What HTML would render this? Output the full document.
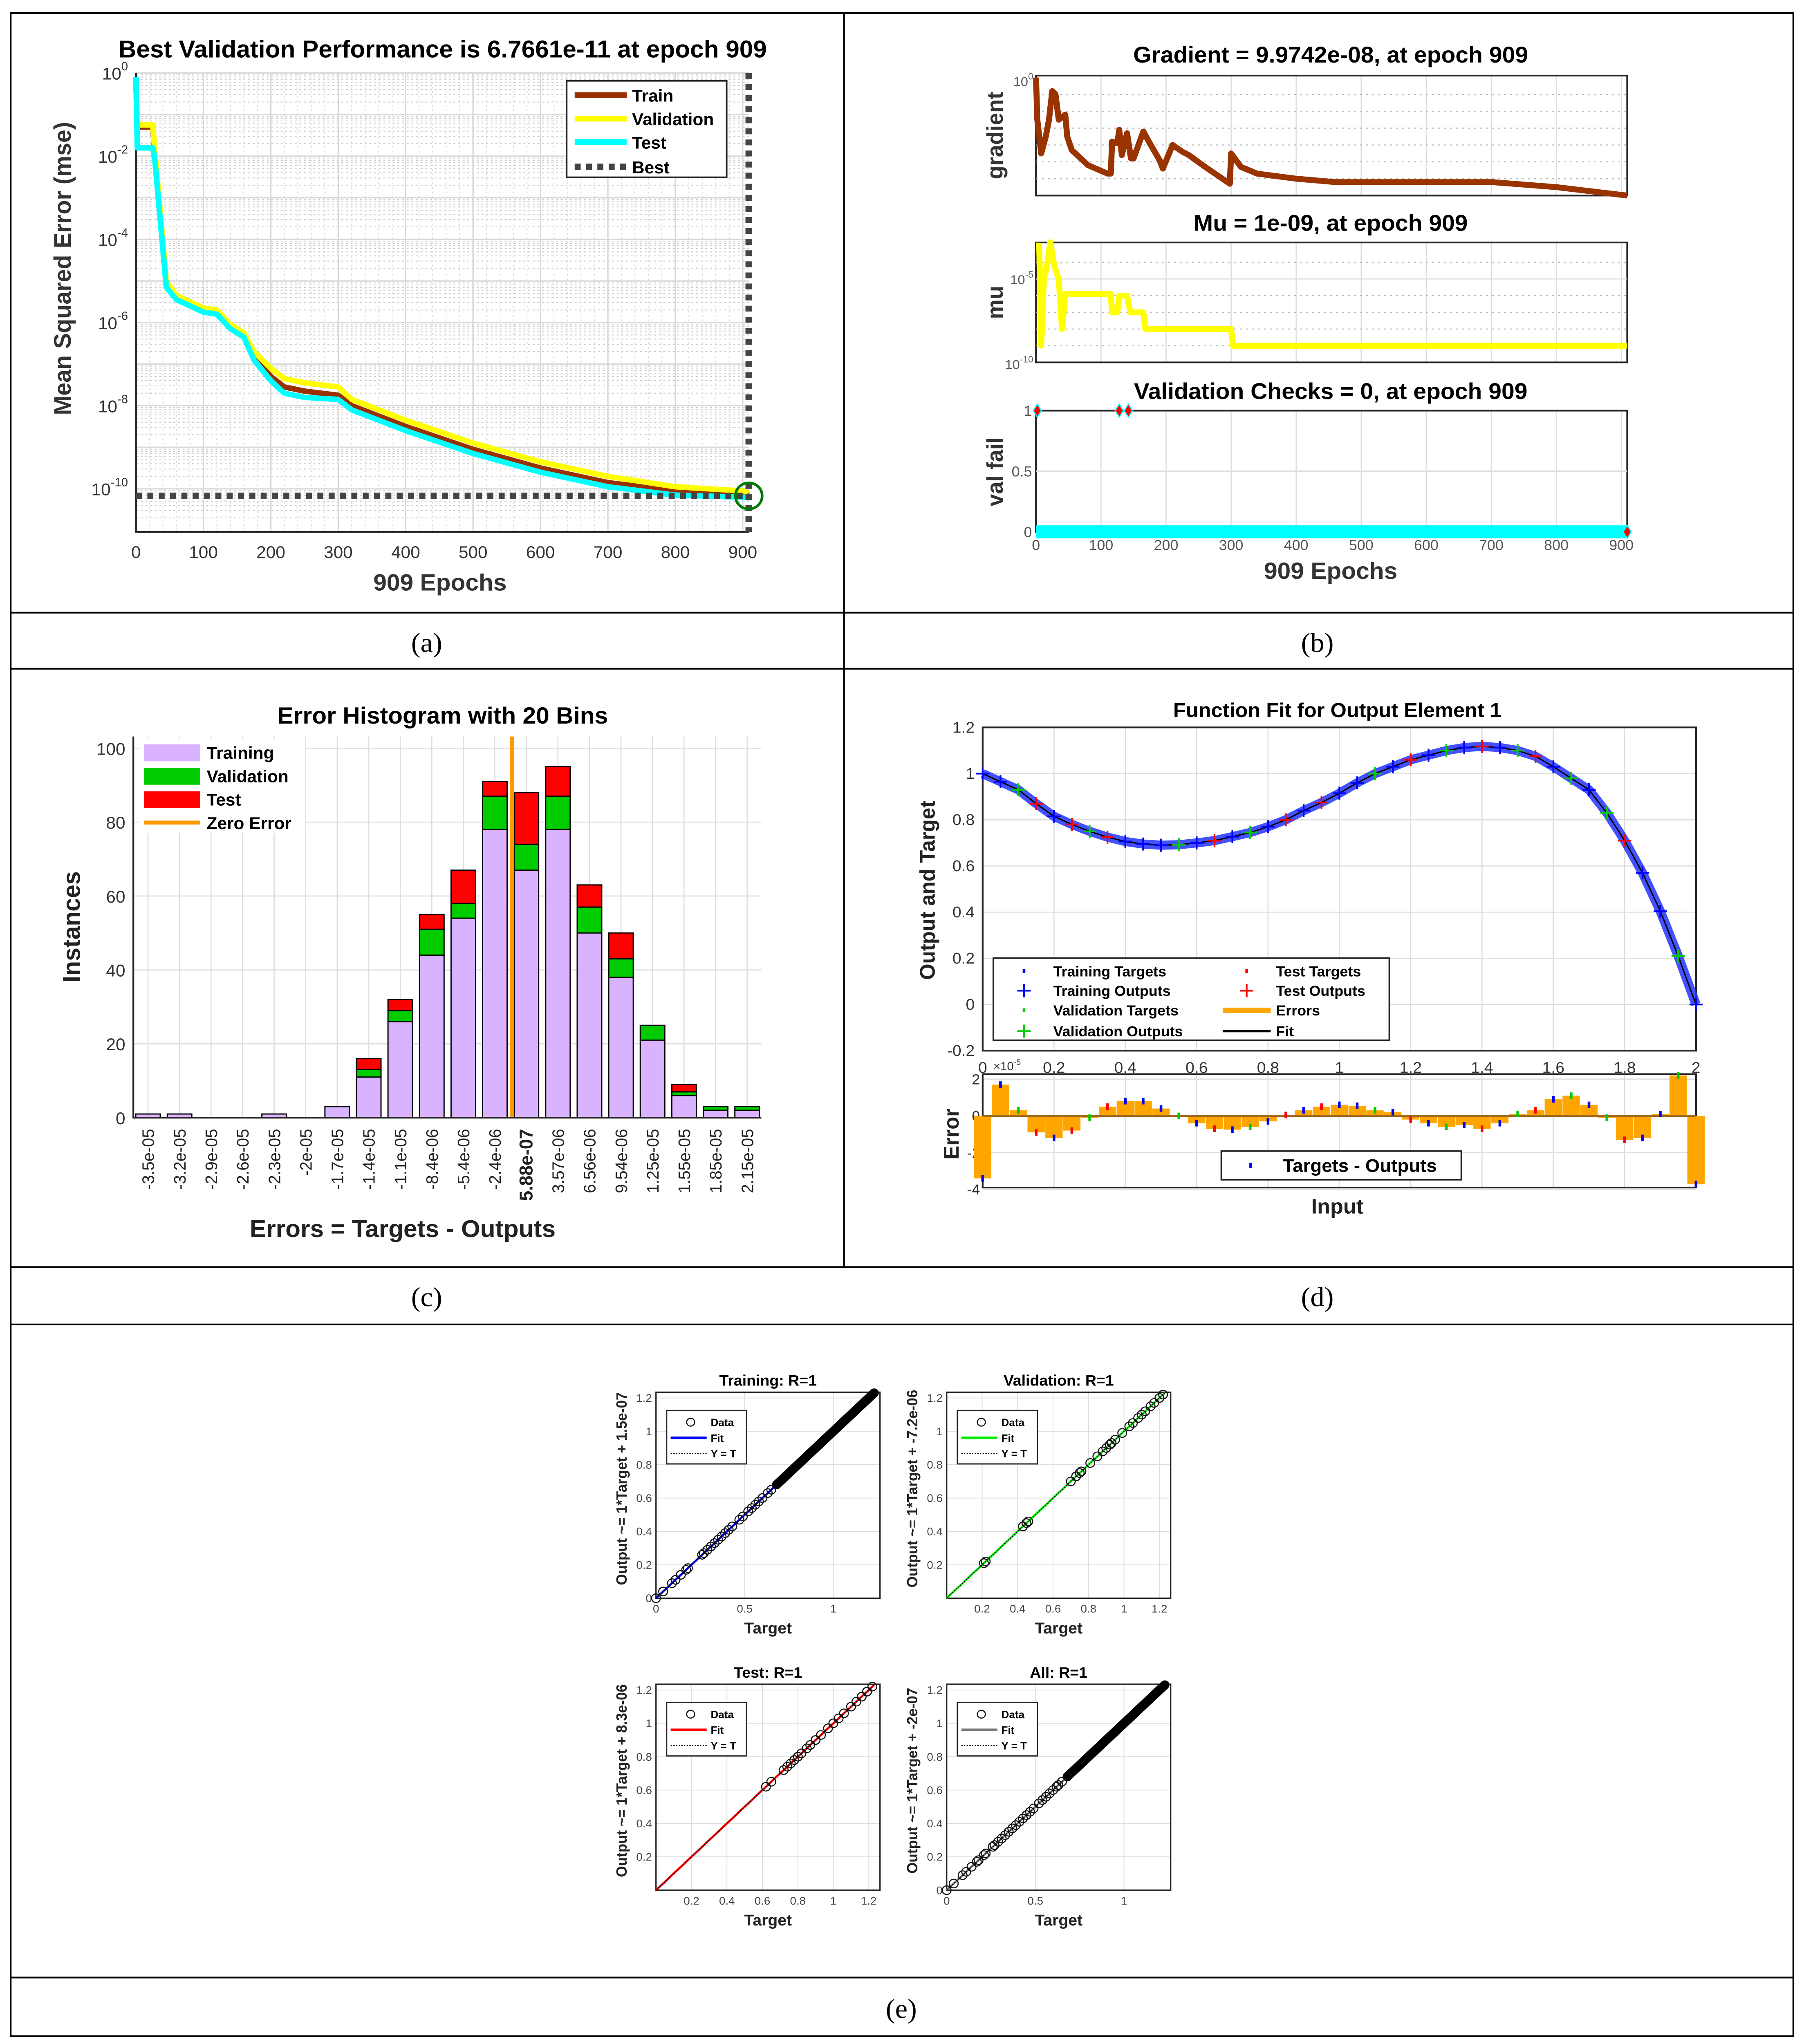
<!DOCTYPE html>
<html><head><meta charset="utf-8">
<style>
html,body{margin:0;padding:0;background:#fff;width:100%;height:100%;overflow:hidden;}
svg{display:block;position:absolute;left:0;top:0;width:100vw;height:100vh;font-family:"Liberation Sans",sans-serif;}
</style></head>
<body>
<svg id="fig" xmlns="http://www.w3.org/2000/svg" viewBox="0 0 1353 1568" preserveAspectRatio="none">
<rect x="0" y="0" width="1353" height="1568" fill="#fff"/>
<g stroke="#000" stroke-width="1.3" fill="none">
<rect x="8" y="10" width="1337" height="1552"/>
<line x1="633" y1="10" x2="633" y2="972"/>
<line x1="8" y1="470" x2="1345" y2="470"/>
<line x1="8" y1="513" x2="1345" y2="513"/>
<line x1="8" y1="972" x2="1345" y2="972"/>
<line x1="8" y1="1016" x2="1345" y2="1016"/>
<line x1="8" y1="1517" x2="1345" y2="1517"/>
</g>
<g font-family="Liberation Serif, serif" font-size="21" text-anchor="middle" fill="#000">
<text x="320" y="500">(a)</text>
<text x="988" y="500">(b)</text>
<text x="320" y="1002">(c)</text>
<text x="988" y="1002">(d)</text>
<text x="676" y="1548">(e)</text>
</g>
<g id="pa"></g>
<g id="pb"></g>
<g id="pc"></g>
<g id="pd"></g>
<g id="pe"></g>
</svg>
<script>
// ---------- Panel A data ----------
const epochsA=[0,2,25,28,45,60,100,120,140,160,175,200,220,250,300,320,400,500,600,700,800,900,909];
const trainA=[-0.3,-1.3,-1.3,-2.0,-5.1,-5.4,-5.7,-5.75,-6.1,-6.3,-6.8,-7.3,-7.55,-7.65,-7.75,-8.0,-8.5,-9.05,-9.5,-9.85,-10.05,-10.1,-10.15];
const valA=[-0.3,-1.25,-1.25,-1.9,-5.0,-5.35,-5.65,-5.7,-6.05,-6.25,-6.7,-7.1,-7.35,-7.45,-7.55,-7.85,-8.35,-8.9,-9.35,-9.7,-9.95,-10.05,-10.1];
const testA=[-0.1,-1.8,-1.8,-2.1,-5.15,-5.45,-5.75,-5.8,-6.15,-6.35,-6.9,-7.4,-7.7,-7.8,-7.85,-8.1,-8.6,-9.15,-9.6,-9.95,-10.15,-10.2,-10.22];
const bestEpochA=909;
const bestLogA=-10.17;
const xTicksA=[0,100,200,300,400,500,600,700,800,900];
const yTicksA=[0,-2,-4,-6,-8,-10];
// ---------- Panel B data ----------
const gradEp=[0,2,8,15,20,25,30,35,45,48,55,80,110,115,117,125,128,132,140,146,150,165,175,190,195,210,225,235,260,298,300,315,340,400,460,600,700,800,909];
const gradLog=[0,-2.5,-4.5,-3.5,-2.5,-0.8,-1.0,-2.5,-2.2,-3.5,-4.3,-5.2,-5.7,-5.7,-3.8,-3.9,-3.1,-4.6,-3.3,-4.8,-4.8,-3.2,-3.9,-4.9,-5.4,-4.0,-4.4,-4.6,-5.3,-6.3,-4.5,-5.3,-5.7,-6.0,-6.2,-6.2,-6.2,-6.5,-7.0];
const muEp=[0,5,8,12,17,22,28,35,40,45,115,117,125,128,140,145,165,168,300,303,909];
const muLog=[-3,-3,-9,-5,-4.2,-2.8,-4.2,-5,-8,-5.9,-5.9,-7,-7,-6,-6,-7,-7,-8,-8,-9,-9];
const valFailEp=[2,128,142,909];
const valFail=[1,1,1,0];
const valLineEp=[0,909];
const valLine=[0,0];
const xTicksB=[0,100,200,300,400,500,600,700,800,900];
// ---------- Panel C data ----------
const binLabels=["-3.5e-05","-3.2e-05","-2.9e-05","-2.6e-05","-2.3e-05","-2e-05","-1.7e-05","-1.4e-05","-1.1e-05","-8.4e-06","-5.4e-06","-2.4e-06","5.88e-07","3.57e-06","6.56e-06","9.54e-06","1.25e-05","1.55e-05","1.85e-05","2.15e-05"];
const histTrain=[1,1,0,0,1,0,3,11,26,44,54,78,67,78,50,38,21,6,2,2];
const histVal=[0,0,0,0,0,0,0,2,3,7,4,9,7,9,7,5,4,1,1,1];
const histTest=[0,0,0,0,0,0,0,3,3,4,9,4,14,8,6,7,0,2,0,0];
const zeroBinPos=11.55;
const yTicksC=[0,20,40,60,80,100];
// ---------- Panel D data ----------
const fitX=[0,0.05,0.1,0.15,0.2,0.25,0.3,0.35,0.4,0.45,0.5,0.55,0.6,0.65,0.7,0.75,0.8,0.85,0.9,0.95,1.0,1.05,1.1,1.15,1.2,1.25,1.3,1.35,1.4,1.45,1.5,1.55,1.6,1.65,1.7,1.75,1.8,1.85,1.9,1.95,2.0];
const fitY=[1.00,0.965,0.93,0.87,0.815,0.78,0.75,0.725,0.706,0.695,0.69,0.692,0.70,0.71,0.727,0.745,0.77,0.80,0.84,0.875,0.915,0.96,1.0,1.03,1.06,1.08,1.10,1.113,1.118,1.113,1.10,1.075,1.03,0.98,0.93,0.83,0.71,0.57,0.404,0.21,0.00];
const errY=[-3.4,1.7,0.3,-0.9,-1.2,-0.8,-0.1,0.5,0.8,0.8,0.4,0,-0.4,-0.7,-0.75,-0.6,-0.3,0.05,0.3,0.5,0.6,0.55,0.3,0.2,-0.2,-0.4,-0.6,-0.5,-0.7,-0.4,0.1,0.3,0.9,1.1,0.6,-0.1,-1.3,-1.2,0.1,2.2,-3.7];
const testIdx=[3,5,7,13,17,19,24,28,31,36];
const valIdx=[2,6,11,15,22,26,30,33,35,39];
const xTicksD=[0,0.2,0.4,0.6,0.8,1,1.2,1.4,1.6,1.8,2];
const yTicksD=[-0.2,0,0.2,0.4,0.6,0.8,1,1.2];
const yTicksErr=[2,0,-2,-4];
// ---------- Panel E data ----------
const trainT=[0,0.04,0.09,0.11,0.14,0.17,0.18,0.26,0.27,0.29,0.31,0.33,0.35,0.37,0.39,0.41,0.43,0.47,0.49,0.52,0.54,0.56,0.58,0.6,0.63,0.65];
const trainDense=[0.68,1.23];
const valT=[0.21,0.22,0.43,0.45,0.46,0.70,0.73,0.75,0.76,0.81,0.85,0.88,0.9,0.92,0.93,0.95,0.99,1.03,1.05,1.08,1.1,1.12,1.15,1.17,1.2,1.22];
const testT=[0.62,0.65,0.72,0.74,0.76,0.78,0.8,0.82,0.85,0.87,0.9,0.93,0.97,1.0,1.03,1.06,1.1,1.13,1.16,1.19,1.22];
const allT=[0,0.04,0.09,0.11,0.14,0.17,0.18,0.21,0.22,0.26,0.27,0.29,0.31,0.33,0.35,0.37,0.39,0.41,0.43,0.45,0.47,0.49,0.52,0.54,0.56,0.58,0.6,0.62,0.63,0.65];
const allDense=[0.68,1.23];

const NS="http://www.w3.org/2000/svg";
function mk(tag,attrs,parent,txt){const e=document.createElementNS(NS,tag);for(const k in attrs)e.setAttribute(k,attrs[k]);if(txt!==undefined)e.textContent=txt;parent.appendChild(e);return e;}
function pts(xs,ys,fx,fy){return xs.map((x,i)=>fx(x).toFixed(2)+","+fy(ys[i]).toFixed(2)).join(" ");}

// ================= PANEL A =================
(function(){
const g=document.getElementById('pa');
const L=102,T=56,B=408;
const xA=e=>L+e*0.5056, yA=v=>T-v*31.9;
const R=xA(909);
const grid=mk('g',{},g);


for(let d=0;d>=-10;d--){for(let k=2;k<=9;k++){const y=yA(d-1+Math.log10(k));if(y>B)continue;
const l=mk('line',{x1:L,x2:R,y1:y,y2:y,stroke:'#ccc','stroke-width':0.7,'stroke-dasharray':'1.5,2'},grid);

}}
for(let e=20;e<909;e+=20){const l=mk('line',{x1:xA(e),x2:xA(e),y1:T,y2:B,stroke:'#ddd','stroke-width':0.7,'stroke-dasharray':'1.5,2'},grid);

}
for(let d=0;d>=-10;d--){const l=mk('line',{x1:L,x2:R,y1:yA(d),y2:yA(d),stroke:'#d8d8d8','stroke-width':1},grid);

}
xTicksA.forEach(t=>{const l=mk('line',{x1:xA(t),x2:xA(t),y1:T,y2:B,stroke:'#d8d8d8','stroke-width':1},grid);


const tx=mk('text',{x:xA(t),y:B+20,'font-size':13,'text-anchor':'middle',fill:'#333'},g,String(t));

});
yTicksA.forEach(d=>{const tx=mk('text',{x:L-6,y:yA(d)+5,'font-size':13,'text-anchor':'end',fill:'#333'},g);


mk('tspan',{},tx,'10');mk('tspan',{dy:-7,'font-size':9},tx,String(d));});
const ax=mk('path',{d:`M${L},${T}V${B}H${R}`,stroke:'#222','stroke-width':1.3,fill:'none'},g);


const series=[[trainA,'#9a3000','train-line'],[valA,'#ffff00','validation-line'],[testA,'#00ffff','test-line']];
series.forEach(s=>{const p=mk('polyline',{points:pts(epochsA,s[0],xA,yA),fill:'none',stroke:s[1],'stroke-width':4.2,'stroke-linejoin':'round'},g);

});
const bh=mk('line',{x1:L,x2:R,y1:yA(bestLogA),y2:yA(bestLogA),stroke:'#444','stroke-width':5,'stroke-dasharray':'4.5,4'},g);


const bv=mk('line',{x1:xA(bestEpochA),x2:xA(bestEpochA),y1:T,y2:B,stroke:'#444','stroke-width':5,'stroke-dasharray':'4.5,4'},g);


const c=mk('circle',{cx:xA(bestEpochA),cy:yA(bestLogA),r:10,fill:'none',stroke:'#007a00','stroke-width':2},g);


const lg=mk('g',{},g);


mk('rect',{x:425,y:62,width:120,height:74,fill:'#fff',stroke:'#222','stroke-width':1.2},lg);
[['Train','#9a3000',73,''],['Validation','#ffff00',91,''],['Test','#00ffff',109,''],['Best','#444',128,'4.5,4']].forEach(r=>{
const le=mk('g',{},lg);


mk('line',{x1:431,x2:470,y1:r[2],y2:r[2],stroke:r[1],'stroke-width':r[3]?5:4.5,'stroke-dasharray':r[3]||'none'},le);
mk('text',{x:474,y:r[2]+5,'font-size':13,'font-weight':'bold'},le,r[0]);});
let t=mk('text',{x:332,y:44,'font-size':18.5,'font-weight':'bold','text-anchor':'middle'},g,'Best Validation Performance is 6.7661e-11 at epoch 909');


t=mk('text',{x:330,y:453,'font-size':18,'font-weight':'bold','text-anchor':'middle',fill:'#333'},g,'909 Epochs');


t=mk('text',{x:0,y:0,'font-size':18,'font-weight':'bold','text-anchor':'middle',fill:'#333',transform:'translate(53,206) rotate(-90)'},g,'Mean Squared Error  (mse)');


})();

// ================= PANEL B =================
(function(){
const g=document.getElementById('pb');
const L=777,R=777+909*0.4878;
const xB=e=>L+e*0.4878;
const yG=v=>59.5-v*12.93, yM=v=>278-(v+10)*12.8, yV=v=>408-v*93;
const boxes=[[58,150,'gradient-axes'],[186,278,'mu-axes'],[315,408,'val-fail-axes']];
boxes.forEach(b=>{const bx=mk('g',{},g);


xTicksB.forEach(t=>mk('line',{x1:xB(t),x2:xB(t),y1:b[0],y2:b[1],stroke:'#ddd','stroke-width':0.8},bx));
mk('rect',{x:L,y:b[0],width:R-L,height:b[1]-b[0],fill:'none',stroke:'#222','stroke-width':1.3},bx);});
for(let d=-1;d>=-6;d--){const l=mk('line',{x1:L,x2:R,y1:yG(d),y2:yG(d),stroke:'#bbb','stroke-width':0.8,'stroke-dasharray':'1.5,3'},g);

}
for(let d=-4;d>=-9;d--){const l=mk('line',{x1:L,x2:R,y1:yM(d),y2:yM(d),stroke:d==-5?'#ddd':'#bbb','stroke-width':0.8,'stroke-dasharray':d==-5?'none':'1.5,3'},g);

}
let l=mk('line',{x1:L,x2:R,y1:yV(0.5),y2:yV(0.5),stroke:'#ddd','stroke-width':1.2},g);


let p=mk('polyline',{points:pts(gradEp,gradLog,xB,yG),fill:'none',stroke:'#993300','stroke-width':4.5,'stroke-linejoin':'round'},g);


p=mk('polyline',{points:pts(muEp,muLog,xB,yM),fill:'none',stroke:'#ffff00','stroke-width':4.5,'stroke-linejoin':'round'},g);


p=mk('polyline',{points:pts(valLineEp,valLine,xB,yV),fill:'none',stroke:'#00ffff','stroke-width':10},g);


valFailEp.forEach((e,i)=>{const x=xB(e),y=yV(valFail[i]);
const d=mk('path',{d:`M${x},${y-5}L${x+3},${y}L${x},${y+5}L${x-3},${y}Z`,fill:'#ff0000',stroke:'#00ffff','stroke-width':0.8},g);

});
xTicksB.forEach(t=>{const tx=mk('text',{x:xB(t),y:422,'font-size':11,'text-anchor':'middle',fill:'#555'},g,String(t));

});
function sup(x,y,base,exp){const tx=mk('text',{x:x,y:y,'font-size':10,'text-anchor':'end',fill:'#555'},g);


mk('tspan',{},tx,base);mk('tspan',{dy:-5,'font-size':7},tx,exp);}
sup(775,66,'10','0');sup(775,218,'10','-5');sup(775,283,'10','-10');
[[1,'1'],[0.5,'0.5'],[0,'0']].forEach(v=>{const tx=mk('text',{x:774,y:yV(v[0])+4,'font-size':11,'text-anchor':'end',fill:'#555'},g,v[1]);

});
[['Gradient = 9.9742e-08, at epoch 909',48,'title-gradient'],['Mu = 1e-09, at epoch 909',177,'title-mu'],['Validation Checks = 0, at epoch 909',306,'title-val-checks']].forEach(s=>{
const tx=mk('text',{x:998,y:s[1],'font-size':17.5,'font-weight':'bold','text-anchor':'middle'},g,s[0]);

});
[['gradient',104,'y-axis-title-gradient'],['mu',232,'y-axis-title-mu'],['val fail',362,'y-axis-title-val-fail']].forEach(s=>{
const tx=mk('text',{x:0,y:0,'font-size':17,'font-weight':'bold','text-anchor':'middle',fill:'#333',transform:`translate(752,${s[1]}) rotate(-90)`},g,s[0]);

});
const tx=mk('text',{x:998,y:444,'font-size':18,'font-weight':'bold','text-anchor':'middle',fill:'#333'},g,'909 Epochs');


})();

// ================= PANEL C =================
(function(){
const g=document.getElementById('pc');
const L=100,R=571,T=565,B=857.4;
const xC=i=>111+i*23.65, yC=v=>B-v*2.834, bw=18.4;
binLabels.forEach((s,i)=>{const l=mk('line',{x1:xC(i),x2:xC(i),y1:T,y2:B,stroke:'#ddd','stroke-width':0.8},g);

});
yTicksC.forEach(v=>{const l=mk('line',{x1:L,x2:R,y1:yC(v),y2:yC(v),stroke:'#ddd','stroke-width':0.8},g);


const tx=mk('text',{x:L-6,y:yC(v)+5,'font-size':13,'text-anchor':'end',fill:'#333'},g,String(v));

});
const lg=mk('g',{},g);


mk('rect',{x:104,y:567,width:125,height:72,fill:'#fff'},lg);
[['Training','#d9b3ff',577],['Validation','#00cc00',595],['Test','#ff0000',613]].forEach(r=>{
const le=mk('g',{},lg);


mk('rect',{x:108,y:r[2]-6,width:42,height:13,fill:r[1]},le);
mk('text',{x:155,y:r[2]+5,'font-size':13,'font-weight':'bold'},le,r[0]);});
const le=mk('g',{},lg);


mk('line',{x1:108,x2:150,y1:631,y2:631,stroke:'#ff9900','stroke-width':3},le);
mk('text',{x:155,y:636,'font-size':13,'font-weight':'bold'},le,'Zero Error');
histTrain.forEach((v,i)=>{
const segs=[[0,v,'#d9b3ff','bar-training'],[v,v+histVal[i],'#00cc00','bar-validation'],[v+histVal[i],v+histVal[i]+histTest[i],'#ff0000','bar-test']];
segs.forEach(s=>{if(s[1]<=s[0])return;
const r=mk('rect',{x:xC(i)-bw/2,y:yC(s[1]),width:bw,height:yC(s[0])-yC(s[1]),fill:s[2],stroke:'#000','stroke-width':0.9},g);

});
const tx=mk('text',{x:0,y:0,'font-size':i==12?14:12.5,'font-weight':i==12?'bold':'normal','text-anchor':'end',fill:'#222',transform:`translate(${xC(i)+4.5},866) rotate(-90)`},g,binLabels[i]);

});
const z=mk('line',{x1:xC(zeroBinPos),x2:xC(zeroBinPos),y1:T,y2:B,stroke:'#ff9900','stroke-width':3},g);


const ax=mk('path',{d:`M${L},${T}V${B}H${R}`,stroke:'#222','stroke-width':1.3,fill:'none'},g);


let t=mk('text',{x:332,y:555,'font-size':18,'font-weight':'bold','text-anchor':'middle'},g,'Error Histogram with 20 Bins');


t=mk('text',{x:302,y:949,'font-size':18.5,'font-weight':'bold','text-anchor':'middle',fill:'#222'},g,'Errors = Targets - Outputs');


t=mk('text',{x:0,y:0,'font-size':18.5,'font-weight':'bold','text-anchor':'middle',fill:'#222',transform:'translate(60,711) rotate(-90)'},g,'Instances');


})();

// ================= PANEL D =================
(function(){
const g=document.getElementById('pd');
const L=737,R=1272,T=558,B=806,ET=824,EB=911;
const xD=t=>L+t*267.5, yD=v=>B-(v+0.2)*177.1, yE=v=>856-v*14.1;
xTicksD.forEach(t=>{[[T,B],[ET,EB]].forEach(r=>{const l=mk('line',{x1:xD(t),x2:xD(t),y1:r[0],y2:r[1],stroke:'#ddd','stroke-width':0.8},g);

});
const tx=mk('text',{x:xD(t),y:823,'font-size':12,'text-anchor':'middle',fill:'#333'},g,String(t));

});
const ex=mk('text',{x:745,y:821,'font-size':9,fill:'#333'},g);


mk('tspan',{},ex,'\u00d710');mk('tspan',{dy:-4,'font-size':6},ex,'-5');
yTicksD.forEach(v=>{const l=mk('line',{x1:L,x2:R,y1:yD(v),y2:yD(v),stroke:'#ddd','stroke-width':0.8},g);


const tx=mk('text',{x:L-6,y:yD(v)+4,'font-size':12,'text-anchor':'end',fill:'#333'},g,String(v));

});
yTicksErr.forEach(v=>{const l=mk('line',{x1:L,x2:R,y1:yE(v),y2:yE(v),stroke:'#ddd','stroke-width':0.8},g);


const tx=mk('text',{x:L-2,y:yE(v)+4,'font-size':11,'text-anchor':'end',fill:'#333'},g,String(v));

});
let b=mk('rect',{x:L,y:T,width:R-L,height:B-T,fill:'none',stroke:'#222','stroke-width':1.3},g);


b=mk('rect',{x:L,y:ET,width:R-L,height:EB-ET,fill:'none',stroke:'#222','stroke-width':1.3},g);


let p=mk('polyline',{points:pts(fitX,fitY,xD,yD),fill:'none',stroke:'#2233ff','stroke-width':7,'stroke-linejoin':'round','stroke-opacity':0.85},g);


p=mk('polyline',{points:pts(fitX,fitY,xD,yD),fill:'none',stroke:'#000','stroke-width':1},g);


fitX.forEach((x,i)=>{const col=testIdx.includes(i)?'#ff0000':valIdx.includes(i)?'#00cc00':'#0000ff';
const cx=xD(x),cy=yD(fitY[i]);
const m=mk('path',{d:`M${cx-5},${cy}H${cx+5}M${cx},${cy-5}V${cy+5}`,stroke:col,'stroke-width':1.3},g);

});
fitX.forEach((x,i)=>{const v=errY[i];const y0=yE(0),y1=yE(v);
const r=mk('rect',{x:xD(x)-6.5,y:Math.min(y0,y1),width:13,height:Math.abs(y1-y0),fill:'#ffa500'},g);

});
const zl=mk('line',{x1:L,x2:R,y1:yE(0),y2:yE(0),stroke:'#a06a20','stroke-width':1.5},g);


fitX.forEach((x,i)=>{const col=testIdx.includes(i)?'#ff0000':valIdx.includes(i)?'#00cc00':'#0000ff';
const d=mk('rect',{x:xD(x)-1,y:yE(errY[i])-2.5,width:2,height:5,fill:col},g);

});
const el=mk('g',{},g);


mk('rect',{x:916,y:883,width:180,height:22,fill:'#fff',stroke:'#222','stroke-width':1.2},el);
mk('rect',{x:937,y:892,width:2,height:4,fill:'#0000ff'},el);
mk('text',{x:962,y:899,'font-size':14,'font-weight':'bold'},el,'Targets - Outputs');
const lg=mk('g',{},g);


mk('rect',{x:745,y:735,width:297,height:63,fill:'#fff',stroke:'#222','stroke-width':1.2},lg);
const rows=[[745,'Training Targets','dot','#0000ff','Test Targets','dot','#ff0000'],[760,'Training Outputs','plus','#0000ff','Test Outputs','plus','#ff0000'],[775,'Validation Targets','dot','#00cc00','Errors','bar','#ffa500'],[791,'Validation Outputs','plus','#00cc00','Fit','line','#000']];
function sym(kind,x,y,col){if(kind=='dot')mk('rect',{x:x-1,y:y-1.5,width:2,height:3,fill:col},lg);
else if(kind=='plus')mk('path',{d:`M${x-5},${y}H${x+5}M${x},${y-5}V${y+5}`,stroke:col,'stroke-width':1.3},lg);
else mk('line',{x1:x-18,x2:x+18,y1:y,y2:y,stroke:col,'stroke-width':kind=='bar'?4:1.8},lg);}
rows.forEach(r=>{const le=mk('g',{},lg);


sym(r[2],768,r[0],r[3]);mk('text',{x:790,y:r[0]+4,'font-size':11,'font-weight':'bold'},le,r[1]);
sym(r[5],935,r[0],r[6]);mk('text',{x:957,y:r[0]+4,'font-size':11,'font-weight':'bold'},le,r[4]);});
let t=mk('text',{x:1003,y:550,'font-size':15.5,'font-weight':'bold','text-anchor':'middle'},g,'Function Fit for Output Element 1');


t=mk('text',{x:1003,y:931,'font-size':16,'font-weight':'bold','text-anchor':'middle',fill:'#222'},g,'Input');


t=mk('text',{x:0,y:0,'font-size':16,'font-weight':'bold','text-anchor':'middle',fill:'#222',transform:'translate(701,683) rotate(-90)'},g,'Output and Target');


t=mk('text',{x:0,y:0,'font-size':16,'font-weight':'bold','text-anchor':'middle',fill:'#222',transform:'translate(719,870) rotate(-90)'},g,'Error');


})();

// ================= PANEL E =================
(function(){
const g=document.getElementById('pe');
const W=168,H=158;
const plots=[
 {L:492,B:1226,title:'Training: R=1',ylab:'Output ~= 1*Target + 1.5e-07',col:'#0000ff',pts:trainT,dense:trainDense,xt:[0,0.5,1],yt:[0,0.2,0.4,0.6,0.8,1,1.2],name:'training-regression'},
 {L:710,B:1226,title:'Validation: R=1',ylab:'Output ~= 1*Target + -7.2e-06',col:'#00ee00',pts:valT,dense:null,xt:[0.2,0.4,0.6,0.8,1,1.2],yt:[0.2,0.4,0.6,0.8,1,1.2],name:'validation-regression'},
 {L:492,B:1450,title:'Test: R=1',ylab:'Output ~= 1*Target + 8.3e-06',col:'#ff0000',pts:testT,dense:null,xt:[0.2,0.4,0.6,0.8,1,1.2],yt:[0.2,0.4,0.6,0.8,1,1.2],name:'test-regression'},
 {L:710,B:1450,title:'All: R=1',ylab:'Output ~= 1*Target + -2e-07',col:'#777',pts:allT,dense:allDense,xt:[0,0.5,1],yt:[0,0.2,0.4,0.6,0.8,1,1.2],name:'all-regression'}];
plots.forEach(pl=>{
const pg=mk('g',{},g);


const xS=t=>pl.L+t*133, yS=v=>pl.B-v*128, T=pl.B-H, R=pl.L+W;
pl.xt.forEach(t=>{mk('line',{x1:xS(t),x2:xS(t),y1:T,y2:pl.B,stroke:'#ddd','stroke-width':0.6},pg);
const tx=mk('text',{x:xS(t),y:pl.B+11,'font-size':8.5,'text-anchor':'middle',fill:'#444'},pg,String(t));

});
pl.yt.forEach(v=>{mk('line',{x1:pl.L,x2:R,y1:yS(v),y2:yS(v),stroke:'#ddd','stroke-width':0.6},pg);
const tx=mk('text',{x:pl.L-3,y:yS(v)+3,'font-size':8.5,'text-anchor':'end',fill:'#444'},pg,String(v));

});
const ax=mk('rect',{x:pl.L,y:T,width:W,height:H,fill:'none',stroke:'#222','stroke-width':1},pg);


const fit=mk('line',{x1:xS(0),y1:yS(0),x2:xS(1.23),y2:yS(1.23),stroke:pl.col,'stroke-width':1.6},pg);


if(pl.dense){const dl=mk('line',{x1:xS(pl.dense[0]),y1:yS(pl.dense[0]),x2:xS(pl.dense[1]),y2:yS(pl.dense[1]),stroke:'#000','stroke-width':7,'stroke-linecap':'round'},pg);

}
pl.pts.forEach(t=>{const c=mk('circle',{cx:xS(t),cy:yS(t),r:3.3,fill:'none',stroke:'#111','stroke-width':0.8},pg);

});
const yt=mk('line',{x1:xS(0),y1:yS(0),x2:xS(1.23),y2:yS(1.23),stroke:'#000','stroke-width':0.6,'stroke-dasharray':'1,1'},pg);


const lg=mk('g',{},pg);


const lx=pl.L+8,ly=T+14;
mk('rect',{x:lx,y:ly,width:60,height:41,fill:'#fff',stroke:'#222','stroke-width':0.9},lg);
mk('circle',{cx:lx+18,cy:ly+9,r:3,fill:'none',stroke:'#111','stroke-width':0.8},lg);
mk('text',{x:lx+33,y:ly+12,'font-size':8,'font-weight':'bold'},lg,'Data');
mk('line',{x1:lx+3,x2:lx+30,y1:ly+21,y2:ly+21,stroke:pl.col,'stroke-width':2},lg);
mk('text',{x:lx+33,y:ly+24,'font-size':8,'font-weight':'bold'},lg,'Fit');
mk('line',{x1:lx+3,x2:lx+30,y1:ly+33,y2:ly+33,stroke:'#000','stroke-width':0.6,'stroke-dasharray':'1,1'},lg);
mk('text',{x:lx+33,y:ly+36,'font-size':8,'font-weight':'bold'},lg,'Y = T');
let t=mk('text',{x:pl.L+W/2,y:T-5,'font-size':11.5,'font-weight':'bold','text-anchor':'middle'},pg,pl.title);


t=mk('text',{x:pl.L+W/2,y:pl.B+27,'font-size':12,'font-weight':'bold','text-anchor':'middle',fill:'#222'},pg,'Target');


t=mk('text',{x:0,y:0,'font-size':11,'font-weight':'bold','text-anchor':'middle',fill:'#222',transform:`translate(${pl.L-22},${pl.B-H/2-5}) rotate(-90)`},pg,pl.ylab);


});
})();
</script>
</body></html>
